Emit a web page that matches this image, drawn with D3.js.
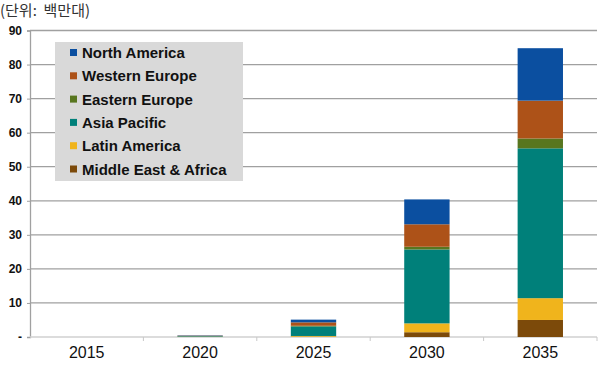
<!DOCTYPE html>
<html>
<head>
<meta charset="utf-8">
<script src="https://cdn.jsdelivr.net/npm/d3@7"></script>
<style>
  body { margin: 0; background: #fff; }
  svg { display: block; }
</style>
</head>
<body>
<div id="chart"></div>
<script>
'use strict';

// 단위: 백만대
var years = ['2015', '2020', '2025', '2030', '2035'];
var regions = ['North America', 'Western Europe', 'Eastern Europe', 'Asia Pacific', 'Latin America', 'Middle East & Africa'];
var regionColors = ['#0b4fa0', '#ad5218', '#58761f', '#00807a', '#f0b41c', '#7c4a0a'];

var middleEastAfrica = [0, 0.05, 0.1, 1.4, 5.0];
var latinAmerica     = [0, 0.05, 0.2, 2.6, 6.4];
var asiaPacific      = [0, 0.15, 2.8, 21.7, 44.0];
var easternEurope    = [0, 0.05, 0.2, 0.8, 2.9];
var westernEurope    = [0, 0.1,  1.0, 6.6, 11.1];
var northAmerica     = [0, 0.1,  0.8, 7.3, 15.4];

var yTicks = [0, 10, 20, 30, 40, 50, 60, 70, 80, 90];

var W = 600, H = 367;
var margin = {top: 30.5, right: 3, bottom: 30, left: 30};

var svg = d3.select('#chart').append('svg')
    .attr('width', W)
    .attr('height', H);

var x = d3.scaleBand()
    .domain(years)
    .range([margin.left, W - margin.right])
    .paddingInner(0.6)
    .paddingOuter(0.3);

var y = d3.scaleLinear()
    .domain([0, 90])
    .range([H - margin.bottom, margin.top]);

// rows for d3.stack, bottom series first
var rows = years.map(function(yr, i) {
    return {
        year: yr,
        'Middle East & Africa': middleEastAfrica[i],
        'Latin America': latinAmerica[i],
        'Asia Pacific': asiaPacific[i],
        'Eastern Europe': easternEurope[i],
        'Western Europe': westernEurope[i],
        'North America': northAmerica[i]
    };
});
var stackOrder = regions.slice().reverse();
var series = d3.stack().keys(stackOrder)(rows);
var color = d3.scaleOrdinal().domain(regions).range(regionColors);

// gridlines
svg.append('g')
    .selectAll('line')
    .data(yTicks.filter(function(d) { return d > 0; }))
    .enter().append('line')
    .attr('x1', margin.left)
    .attr('x2', W - margin.right)
    .attr('y1', function(d) { return y(d); })
    .attr('y2', function(d) { return y(d); })
    .attr('stroke', '#a0a0a0')
    .attr('stroke-width', 1.3);

// y axis
var yAxis = svg.append('g')
    .attr('transform', 'translate(' + margin.left + ',0)')
    .call(d3.axisLeft(y).tickValues(yTicks).tickSize(3).tickPadding(5)
        .tickFormat(function(d) { return d === 0 ? '-' : d; }));
yAxis.select('.domain').attr('stroke', '#a0a0a0').attr('stroke-width', 1.3);
yAxis.selectAll('.tick line').attr('stroke', '#a0a0a0');
yAxis.selectAll('text')
    .attr('font-family', 'Liberation Sans, Arial, sans-serif')
    .attr('font-size', 12)
    .attr('font-weight', 'bold')
    .attr('fill', '#111');

// x axis with ticks at category boundaries
var step = x.step();
var boundaries = d3.range(years.length + 1).map(function(i) { return margin.left + i * step; });
svg.append('line')
    .attr('x1', margin.left).attr('x2', W - margin.right)
    .attr('y1', y(0)).attr('y2', y(0))
    .attr('stroke', '#d0d0d0').attr('stroke-width', 1.5);
svg.append('g').selectAll('line')
    .data(boundaries.slice(1))
    .enter().append('line')
    .attr('x1', function(d) { return d; }).attr('x2', function(d) { return d; })
    .attr('y1', y(0)).attr('y2', y(0) + 4)
    .attr('stroke', '#c8c8c8');
svg.append('g').selectAll('text')
    .data(years)
    .enter().append('text')
    .attr('x', function(d) { return x(d) + x.bandwidth() / 2; })
    .attr('y', H - 9)
    .attr('text-anchor', 'middle')
    .attr('font-family', 'Liberation Sans, Arial, sans-serif')
    .attr('font-size', 16)
    .attr('fill', '#111')
    .text(function(d) { return d; });

// bars
svg.append('g').selectAll('g')
    .data(series)
    .enter().append('g')
    .attr('fill', function(s) { return color(s.key); })
    .selectAll('rect')
    .data(function(s) { return s; })
    .enter().append('rect')
    .attr('x', function(d) { return x(d.data.year); })
    .attr('width', x.bandwidth())
    .attr('y', function(d) { return y(d[1]); })
    .attr('height', function(d) { return y(d[0]) - y(d[1]); });

// legend
var legend = svg.append('g').attr('transform', 'translate(55,42)');
legend.append('rect')
    .attr('width', 188)
    .attr('height', 139)
    .attr('fill', '#d9d9d9');
var item = legend.selectAll('g.item')
    .data(regions)
    .enter().append('g')
    .attr('class', 'item')
    .attr('transform', function(d, i) { return 'translate(15,' + (10.5 + i * 23.3) + ')'; });
item.append('rect')
    .attr('width', 7)
    .attr('height', 7)
    .attr('y', -3.5)
    .attr('fill', function(d) { return color(d); });
item.append('text')
    .attr('x', 12)
    .attr('y', 5.5)
    .attr('font-family', 'Liberation Sans, Arial, sans-serif')
    .attr('font-size', 15)
    .attr('font-weight', 'bold')
    .attr('fill', '#111')
    .text(function(d) { return d; });

// unit label
svg.append('text')
    .attr('x', 0)
    .attr('y', 16)
    .attr('font-family', 'Noto Sans CJK KR, sans-serif')
    .attr('font-size', 15)
    .attr('fill', '#333')
    .attr('xml:space', 'preserve')
    .text('(단위:  백만대)');
</script>
</body>
</html>
